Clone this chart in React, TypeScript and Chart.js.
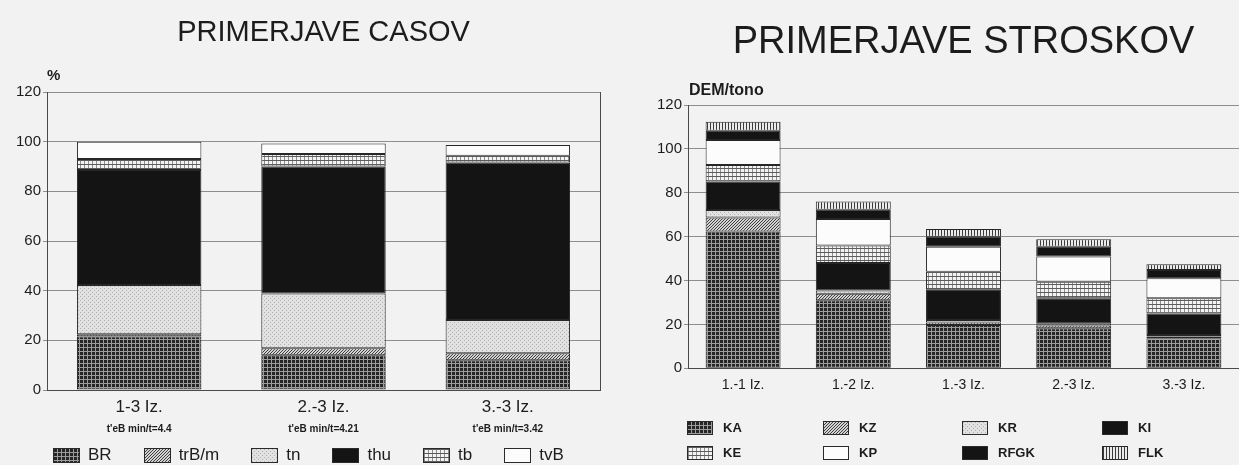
import React, { useEffect, useMemo, useRef } from "react";
import { Chart, registerables } from "chart.js";

Chart.register(...registerables);

const FONT = "'Liberation Sans', Arial, Helvetica, sans-serif";
const INK = "#1c1c1c";

// ---------- Left chart: PRIMERJAVE CASOV ----------
const timeTitle = "PRIMERJAVE CASOV";
const timeUnit = "%";
const timeCategories = ["1-3 Iz.", "2.-3 Iz.", "3.-3 Iz."];
const timeNotes = ["t'eB min/t=4.4", "t'eB min/t=4.21", "t'eB min/t=3.42"];
const timeSeriesNames = ["BR", "trB/m", "tn", "thu", "tb", "tvB"];
const timeBR = [21.5, 14, 12];
const timeTrBm = [1, 2.8, 2.8];
const timeTn = [19.8, 22.1, 13.4];
const timeThu = [46.3, 51.1, 63.4];
const timeTb = [4.4, 5, 2.7];
const timeTvB = [7, 4.3, 4.4];
const timeTicks = [0, 20, 40, 60, 80, 100, 120];

// ---------- Right chart: PRIMERJAVE STROSKOV ----------
const costTitle = "PRIMERJAVE STROSKOV";
const costUnit = "DEM/tono";
const costCategories = ["1.-1 Iz.", "1.-2 Iz.", "1.-3 Iz.", "2.-3 Iz.", "3.-3 Iz."];
const costSeriesNames = ["KA", "KZ", "KR", "KI", "KE", "KP", "RFGK", "FLK"];
const costKA = [62.3, 31, 19.7, 18.2, 13.7];
const costKZ = [6.4, 3, 1.2, 1.3, 0.8];
const costKR = [3.5, 1.5, 1.1, 1, 0.7];
const costKI = [12.9, 12.5, 14, 11.4, 9.8];
const costKE = [7.6, 8, 8, 7.6, 6.9];
const costKP = [11.3, 12, 11.4, 11.4, 9.1];
const costRFGK = [4.3, 4.3, 4.6, 4.5, 3.8];
const costFLK = [4.1, 3.7, 3.5, 3.4, 2.6];
const costTicks = [0, 20, 40, 60, 80, 100, 120];

type TileKind = "dense" | "hatch" | "dots" | "black" | "grid" | "white" | "vlines";
const ALL_KINDS: TileKind[] = ["dense", "hatch", "dots", "black", "grid", "white", "vlines"];
const timeKinds: TileKind[] = ["dense", "hatch", "dots", "black", "grid", "white"];
const costKinds: TileKind[] = ["dense", "hatch", "dots", "black", "grid", "white", "black", "vlines"];

function makeTile(kind: TileKind): HTMLCanvasElement {
  const c = document.createElement("canvas");
  const sizes: Record<TileKind, [number, number]> = {
    dense: [4, 4], hatch: [6, 6], dots: [4, 4], black: [2, 2], grid: [4, 4], white: [2, 2], vlines: [3, 3],
  };
  const [w, h] = sizes[kind];
  c.width = w;
  c.height = h;
  const g = c.getContext("2d")!;
  const rect = (col: string, x: number, y: number, rw: number, rh: number) => {
    g.fillStyle = col;
    g.fillRect(x, y, rw, rh);
  };
  switch (kind) {
    case "dense":
      rect("#262626", 0, 0, 4, 4);
      rect("#9c9c9c", 0, 3, 4, 1);
      rect("#9c9c9c", 3, 0, 1, 4);
      break;
    case "hatch":
      rect("#d2d2d2", 0, 0, 6, 6);
      for (let i = 0; i < 6; i++) {
        rect("#3e3e3e", i, 5 - i, 1, 1);
        rect("#3e3e3e", i, (8 - i) % 6, 1, 1);
      }
      break;
    case "dots":
      rect("#e1e1e1", 0, 0, 4, 4);
      rect("#b0b0b0", 0, 0, 1, 1);
      rect("#b0b0b0", 2, 2, 1, 1);
      break;
    case "black":
      rect("#141414", 0, 0, 2, 2);
      break;
    case "grid":
      rect("#f3f3f3", 0, 0, 4, 4);
      rect("#5c5c5c", 0, 0, 4, 1);
      rect("#8c8c8c", 0, 1, 1, 3);
      break;
    case "white":
      rect("#fcfcfc", 0, 0, 2, 2);
      break;
    case "vlines":
      rect("#ececec", 0, 0, 3, 3);
      rect("#3a3a3a", 0, 0, 1, 3);
      break;
  }
  return c;
}

type Tiles = Record<TileKind, HTMLCanvasElement>;

function unitLabelPlugin(text: string, size: number, dx: number, dy: number) {
  return {
    id: "unitLabel",
    afterDraw(chart: any) {
      const { ctx, chartArea } = chart;
      ctx.save();
      ctx.font = `bold ${size}px ${FONT}`;
      ctx.fillStyle = INK;
      ctx.textAlign = "left";
      ctx.textBaseline = "middle";
      ctx.fillText(text, chartArea.left + dx, chartArea.top - dy);
      ctx.restore();
    },
  };
}

const CLEAR = "rgba(0,0,0,0)";

function TimeChart({ tiles }: { tiles: Tiles }) {
  const ref = useRef<HTMLCanvasElement>(null);
  useEffect(() => {
    const canvas = ref.current!;
    const ctx = canvas.getContext("2d")!;
    const series = [timeBR, timeTrBm, timeTn, timeThu, timeTb, timeTvB];
    const chart = new Chart(canvas, {
      type: "bar",
      data: {
        labels: timeCategories,
        datasets: series.map((d, i) => ({
          label: timeSeriesNames[i],
          data: d,
          backgroundColor: ctx.createPattern(tiles[timeKinds[i]], "repeat") as any,
          borderColor: "#262626",
          borderWidth: 1,
          borderSkipped: false,
          categoryPercentage: 1,
          barPercentage: 0.675,
        })),
      },
      options: {
        responsive: false,
        animation: false,
        layout: { padding: { left: 0, right: 20, top: 0, bottom: 30 } },
        plugins: {
          legend: { display: false },
          tooltip: { enabled: false },
          title: {
            display: true,
            text: timeTitle,
            fullSize: false,
            color: INK,
            font: { family: FONT, size: 29, weight: "normal", lineHeight: 1.2 },
            padding: { top: 15.1, bottom: 42.1 },
          },
        },
        scales: {
          x: {
            stacked: true,
            grid: { color: CLEAR, drawTicks: false },
            border: { display: true, color: "#4a4a4a" },
            ticks: { color: INK, font: { family: FONT, size: 17 }, padding: 6.8, autoSkip: false, maxRotation: 0 },
          },
          x2: {
            type: "category",
            labels: timeNotes,
            position: "bottom",
            weight: 1,
            offset: true,
            grid: { color: CLEAR, drawTicks: false },
            border: { display: false },
            ticks: {
              color: INK,
              font: { family: FONT, size: 10, weight: "bold", lineHeight: 1.2 },
              padding: -0.5,
              autoSkip: false,
              maxRotation: 0,
            },
          },
          y: {
            stacked: true,
            min: timeTicks[0],
            max: timeTicks[timeTicks.length - 1],
            ticks: { stepSize: timeTicks[1] - timeTicks[0], color: INK, font: { family: FONT, size: 15 }, padding: 2 },
            grid: { color: "#8e8e8e", tickLength: 4 },
            border: { color: "#4a4a4a" },
            afterFit: (s: any) => {
              s.width = 47;
            },
          },
          y2: {
            type: "linear",
            position: "right",
            min: 0,
            max: 120,
            grid: { color: CLEAR, drawTicks: false },
            ticks: { display: false },
            border: { display: true, color: "#4a4a4a" },
            afterFit: (s: any) => {
              s.width = 0;
            },
          },
        },
      } as any,
      plugins: [unitLabelPlugin(timeUnit, 15, 0, 16)],
    });
    return () => chart.destroy();
  }, [tiles]);
  return (
    <canvas
      ref={ref}
      width={620}
      height={465}
      style={{ position: "absolute", left: 0, top: 0, width: 620, height: 465 }}
    />
  );
}

function CostChart({ tiles }: { tiles: Tiles }) {
  const ref = useRef<HTMLCanvasElement>(null);
  useEffect(() => {
    const canvas = ref.current!;
    const ctx = canvas.getContext("2d")!;
    const series = [costKA, costKZ, costKR, costKI, costKE, costKP, costRFGK, costFLK];
    const chart = new Chart(canvas, {
      type: "bar",
      data: {
        labels: costCategories,
        datasets: series.map((d, i) => ({
          label: costSeriesNames[i],
          data: d,
          backgroundColor: ctx.createPattern(tiles[costKinds[i]], "repeat") as any,
          borderColor: "#262626",
          borderWidth: 1,
          borderSkipped: false,
          categoryPercentage: 1,
          barPercentage: 0.68,
        })),
      },
      options: {
        responsive: false,
        animation: false,
        layout: { padding: { left: 0, right: 0, top: 0, bottom: 63.3 } },
        plugins: {
          legend: { display: false },
          tooltip: { enabled: false },
          title: {
            display: true,
            text: costTitle,
            fullSize: false,
            color: INK,
            font: { family: FONT, size: 38, weight: "normal", lineHeight: 1.2 },
            padding: { top: 19.7, bottom: 39.7 },
          },
        },
        scales: {
          x: {
            stacked: true,
            grid: { color: CLEAR, drawTicks: false },
            border: { display: true, color: "#4a4a4a" },
            ticks: { color: INK, font: { family: FONT, size: 14 }, padding: 8.3, autoSkip: false, maxRotation: 0 },
          },
          y: {
            stacked: true,
            min: costTicks[0],
            max: costTicks[costTicks.length - 1],
            ticks: { stepSize: costTicks[1] - costTicks[0], color: INK, font: { family: FONT, size: 15 }, padding: 2 },
            grid: { color: "#8e8e8e", tickLength: 4 },
            border: { color: "#4a4a4a" },
            afterFit: (s: any) => {
              s.width = 68;
            },
          },
        },
      } as any,
      plugins: [unitLabelPlugin(costUnit, 16, 1, 14)],
    });
    return () => chart.destroy();
  }, [tiles]);
  return (
    <canvas
      ref={ref}
      width={619}
      height={465}
      style={{ position: "absolute", left: 620, top: 0, width: 619, height: 465 }}
    />
  );
}

function Swatch({ url, w, h }: { url: string; w: number; h: number }) {
  return (
    <span
      style={{
        display: "inline-block",
        width: w,
        height: h,
        boxSizing: "border-box",
        border: "1px solid #2a2a2a",
        backgroundImage: `url(${url})`,
        imageRendering: "pixelated",
        flex: "none",
      }}
    />
  );
}

export default function App() {
  const tiles = useMemo(() => {
    const o = {} as Tiles;
    ALL_KINDS.forEach((k) => {
      o[k] = makeTile(k);
    });
    return o;
  }, []);
  const urls = useMemo(() => {
    const o = {} as Record<TileKind, string>;
    ALL_KINDS.forEach((k) => {
      o[k] = tiles[k].toDataURL();
    });
    return o;
  }, [tiles]);

  return (
    <div
      style={{
        position: "fixed",
        left: 0,
        top: 0,
        width: 1239,
        height: 465,
        background: "#f2f2f2",
        overflow: "hidden",
        fontFamily: FONT,
        color: INK,
      }}
    >
      <TimeChart tiles={tiles} />
      <CostChart tiles={tiles} />

      <div
        style={{
          position: "absolute",
          left: 53,
          top: 447,
          height: 16,
          display: "flex",
          alignItems: "center",
          gap: 32,
          whiteSpace: "nowrap",
        }}
      >
        {timeSeriesNames.map((n, i) => (
          <div key={n} style={{ display: "flex", alignItems: "center" }}>
            <Swatch url={urls[timeKinds[i]]} w={27} h={15} />
            <span style={{ marginLeft: 8, fontSize: 17, lineHeight: "16px" }}>{n}</span>
          </div>
        ))}
      </div>

      <div
        style={{
          position: "absolute",
          left: 687,
          top: 415,
          display: "grid",
          gridTemplateColumns: "136px 139px 140px 120px",
          gridAutoRows: "25px",
          whiteSpace: "nowrap",
        }}
      >
        {costSeriesNames.map((n, i) => (
          <div key={n} style={{ display: "flex", alignItems: "center" }}>
            <Swatch url={urls[costKinds[i]]} w={26} h={14} />
            <span style={{ marginLeft: 10, fontSize: 13, fontWeight: "bold", lineHeight: "14px" }}>{n}</span>
          </div>
        ))}
      </div>
    </div>
  );
}
